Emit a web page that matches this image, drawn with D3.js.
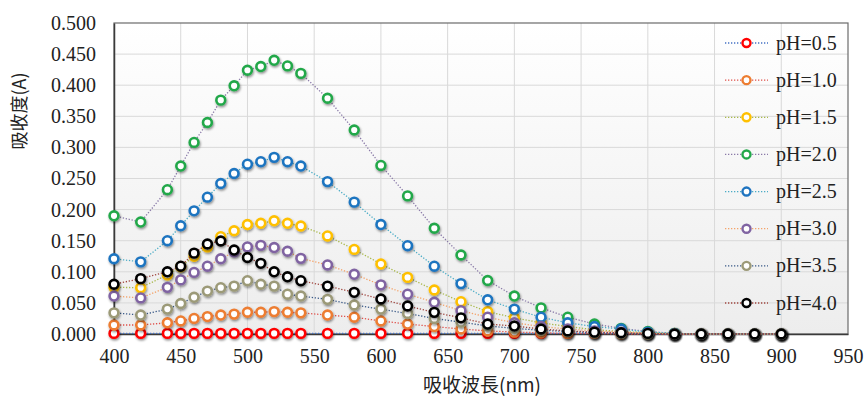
<!DOCTYPE html>
<html>
<head>
<meta charset="utf-8">
<script src="https://cdn.jsdelivr.net/npm/d3@7"></script>
<style>
  body { margin: 0; background: #fff; }
  svg { display: block; }
</style>
</head>
<body>
<svg id="chart" width="865" height="398"></svg>
<script>
// wavelengths (nm)
const wavelengths = [400, 420, 440, 450, 460, 470, 480, 490, 500, 510, 520, 530, 540,
  560, 580, 600, 620, 640, 660, 680, 700, 720, 740, 760, 780, 800, 820, 840, 860, 880, 900];

const seriesNames = ['pH=0.5', 'pH=1.0', 'pH=1.5', 'pH=2.0', 'pH=2.5', 'pH=3.0', 'pH=3.5', 'pH=4.0'];

const ph05 = [0.001, 0.001, 0.001, 0.001, 0.001, 0.001, 0.001, 0.001, 0.001, 0.001, 0.001, 0.001, 0.001,
  0.001, 0.001, 0.001, 0.001, 0.001, 0.001, 0.001, 0.001, 0.001, 0.001, 0.001, 0.001, 0.001, 0, 0, 0, 0, 0];
const ph10 = [0.0145, 0.0145, 0.018, 0.021, 0.025, 0.028, 0.0305, 0.032, 0.035, 0.035, 0.036, 0.035, 0.034,
  0.0305, 0.027, 0.021, 0.016, 0.012, 0.008, 0.005, 0.003, 0.002, 0.001, 0.001, 0, 0, 0, 0, 0, 0, 0];
const ph15 = [0.075, 0.0745, 0.095, 0.108, 0.125, 0.140, 0.1565, 0.166, 0.176, 0.178, 0.182, 0.178, 0.1736,
  0.1576, 0.136, 0.1125, 0.091, 0.0707, 0.052, 0.036, 0.026, 0.018, 0.012, 0.007, 0.004, 0.002, 0.001, 0, 0, 0, 0];
const ph20 = [0.190, 0.180, 0.232, 0.270, 0.308, 0.340, 0.376, 0.399, 0.424, 0.430, 0.440, 0.431, 0.419,
  0.379, 0.328, 0.271, 0.222, 0.170, 0.127, 0.086, 0.061, 0.042, 0.027, 0.016, 0.009, 0.004, 0.001, 0, 0, 0, 0];
const ph25 = [0.121, 0.116, 0.150, 0.174, 0.198, 0.220, 0.242, 0.258, 0.273, 0.277, 0.284, 0.277, 0.270,
  0.245, 0.212, 0.176, 0.142, 0.109, 0.081, 0.055, 0.040, 0.027, 0.018, 0.012, 0.008, 0.003, 0.001, 0, 0, 0, 0];
const ph30 = [0.061, 0.058, 0.075, 0.087, 0.099, 0.109, 0.121, 0.132, 0.140, 0.1425, 0.139, 0.133, 0.1216,
  0.111, 0.096, 0.079, 0.064, 0.051, 0.0375, 0.027, 0.018, 0.012, 0.008, 0.005, 0.003, 0.001, 0, 0, 0, 0, 0];
const ph35 = [0.034, 0.0305, 0.040, 0.049, 0.059, 0.069, 0.0745, 0.077, 0.0857, 0.080, 0.077, 0.064, 0.061,
  0.0557, 0.0466, 0.040, 0.033, 0.025, 0.019, 0.013, 0.009, 0.006, 0.004, 0.002, 0.001, 0, 0, 0, 0, 0, 0];
const ph40 = [0.080, 0.089, 0.100, 0.109, 0.130, 0.1447, 0.1495, 0.135, 0.123, 0.1136, 0.100, 0.092, 0.0857,
  0.077, 0.067, 0.0563, 0.045, 0.0348, 0.026, 0.016, 0.0128, 0.008, 0.005, 0.003, 0.002, 0.001, 0, 0, 0, 0, 0];

const seriesValues = [ph05, ph10, ph15, ph20, ph25, ph30, ph35, ph40];

const xTicks = [400, 450, 500, 550, 600, 650, 700, 750, 800, 850, 900, 950];
const yTicks = [0, 0.05, 0.1, 0.15, 0.2, 0.25, 0.3, 0.35, 0.4, 0.45, 0.5];

// marker colours and (Excel-ish) dotted line colours
const markerColors = ['#ff0000', '#ed7d31', '#ffc000', '#22a84a', '#1f74c0', '#8064a2', '#9c9a78', '#000000'];
const lineColors = ['#4472c4', '#e0504a', '#a8b84a', '#8a7aa8', '#4bacc6', '#f4a36a', '#3a5a88', '#a0463f'];

const serif = '"Liberation Serif", "Times New Roman", serif';

const svg = d3.select('#chart');
const plotLeft = 114, plotRight = 848, plotTop = 23, plotBottom = 334;

const x = d3.scaleLinear().domain([400, 950]).range([plotLeft, plotRight]);
const y = d3.scaleLinear().domain([0, 0.5]).range([plotBottom, plotTop]);

const defs = svg.append('defs');
const grad = defs.append('linearGradient')
  .attr('id', 'bg').attr('x1', 0).attr('y1', 0).attr('x2', 0).attr('y2', 1);
grad.append('stop').attr('offset', '0%').attr('stop-color', '#ffffff');
grad.append('stop').attr('offset', '100%').attr('stop-color', '#ededed');

defs.append('filter').attr('id', 'shadow')
  .attr('x', '-50%').attr('y', '-50%').attr('width', '200%').attr('height', '200%')
  .append('feDropShadow')
  .attr('dx', 0.8).attr('dy', 1.5).attr('stdDeviation', 1)
  .attr('flood-color', '#000').attr('flood-opacity', 0.45);

// plot background
svg.append('rect')
  .attr('x', plotLeft).attr('y', plotTop)
  .attr('width', plotRight - plotLeft).attr('height', plotBottom - plotTop)
  .attr('fill', 'url(#bg)');

// grid
svg.append('g').selectAll('line')
  .data(xTicks.slice(1, -1))
  .enter().append('line')
  .attr('x1', d => x(d)).attr('x2', d => x(d))
  .attr('y1', plotTop).attr('y2', plotBottom)
  .attr('stroke', '#d9d9d9').attr('stroke-width', 1);

svg.append('g').selectAll('line')
  .data(yTicks.slice(1, -1))
  .enter().append('line')
  .attr('x1', plotLeft).attr('x2', plotRight)
  .attr('y1', d => y(d)).attr('y2', d => y(d))
  .attr('stroke', '#d9d9d9').attr('stroke-width', 1);

// frame
svg.append('rect')
  .attr('x', plotLeft).attr('y', plotTop)
  .attr('width', plotRight - plotLeft).attr('height', plotBottom - plotTop)
  .attr('fill', 'none').attr('stroke', '#6b6b6b').attr('stroke-width', 1.2);

// axes
const xAxis = svg.append('g')
  .attr('transform', `translate(0,${plotBottom})`)
  .call(d3.axisBottom(x).tickValues(xTicks).tickSize(0).tickPadding(15).tickFormat(d3.format('d')));
const yAxis = svg.append('g')
  .attr('transform', `translate(${plotLeft},0)`)
  .call(d3.axisLeft(y).tickValues(yTicks).tickSize(0).tickPadding(18).tickFormat(d3.format('.3f')));

[xAxis, yAxis].forEach(a => {
  a.attr('font-family', serif).attr('font-size', 20);
  a.select('.domain').attr('stroke', '#3a3a3a').attr('stroke-width', 1.5);
  a.selectAll('text').attr('fill', '#222');
});

// series
const line = d3.line()
  .x((d, i) => x(wavelengths[i]))
  .y(d => y(d));

seriesValues.forEach((vals, s) => {
  const g = svg.append('g');
  g.append('path')
    .datum(vals)
    .attr('d', line)
    .attr('fill', 'none')
    .attr('stroke', lineColors[s])
    .attr('stroke-width', 1.3)
    .attr('stroke-dasharray', '1.3,1.7');
  g.selectAll('circle')
    .data(vals)
    .enter().append('circle')
    .attr('cx', (d, i) => x(wavelengths[i]))
    .attr('cy', d => y(d))
    .attr('r', 4.4)
    .attr('fill', '#fff')
    .attr('stroke', markerColors[s])
    .attr('stroke-width', 2.6)
    .attr('filter', 'url(#shadow)');
});

// legend
const legend = svg.append('g').attr('font-family', serif).attr('font-size', 20);
const legY = d3.scaleLinear().domain([0, 7]).range([43, 303]);
seriesNames.forEach((name, s) => {
  const ly = legY(s);
  legend.append('line')
    .attr('x1', 725).attr('x2', 768)
    .attr('y1', ly).attr('y2', ly)
    .attr('stroke', lineColors[s])
    .attr('stroke-width', 1.3)
    .attr('stroke-dasharray', '1.3,1.7');
  legend.append('circle')
    .attr('cx', 746.5).attr('cy', ly).attr('r', 4)
    .attr('fill', '#fff')
    .attr('stroke', markerColors[s])
    .attr('stroke-width', 2.4);
  legend.append('text')
    .attr('x', 776).attr('y', ly + 6.5)
    .attr('fill', '#222')
    .text(name);
});

// axis titles
svg.append('text')
  .attr('transform', 'translate(26,111) rotate(-90)')
  .attr('text-anchor', 'middle')
  .attr('font-family', '"Noto Sans CJK TC", "Liberation Serif", serif')
  .attr('font-size', 18)
  .attr('fill', '#222')
  .text('吸收度(A)');

svg.append('text')
  .attr('x', 482).attr('y', 392)
  .attr('text-anchor', 'middle')
  .attr('font-family', '"Noto Sans CJK TC", "Liberation Serif", serif')
  .attr('font-size', 19)
  .attr('fill', '#222')
  .text('吸收波長(nm)');
</script>
</body>
</html>
